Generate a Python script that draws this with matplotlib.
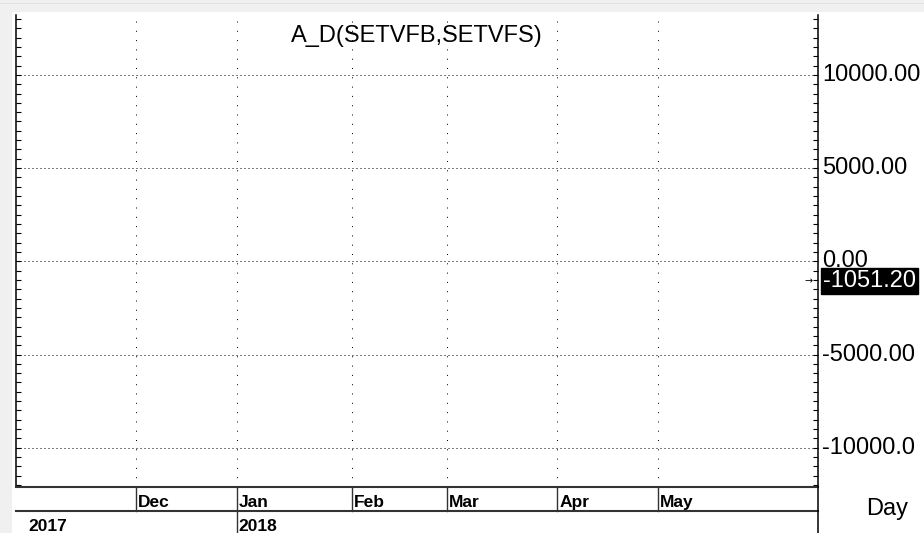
import matplotlib
matplotlib.use("Agg")
import matplotlib.pyplot as plt
from matplotlib.patches import Rectangle
from matplotlib.lines import Line2D
from matplotlib.ticker import MultipleLocator

# ---- data ----
title = "A_D(SETVFB,SETVFS)"
month_labels = ["Dec", "Jan", "Feb", "Mar", "Apr", "May"]
month_pos = [24, 44, 67, 86, 108, 128]          # trading-day index of month start
year_labels = ["2017", "2018"]
year_pos = [0, 44]
ytick_vals = [10000, 5000, 0, -5000, -10000]
ytick_labels = ["10000.00", "5000.00", "0.00", "-5000.00", "-10000.0"]
last_value = -1051.20
x_range = (0, 160)
y_range = (-12108, 13213)

W, H = 924, 533
DPI = 100
fig = plt.figure(figsize=(W / DPI, H / DPI), dpi=DPI, facecolor="white")

def fx(px):
    return px / W

def fy(py):  # py measured from top
    return 1 - py / H

# window border (light gray)
fig.patches.append(Rectangle((0, 0), fx(12), 1, transform=fig.transFigure,
                             facecolor="#f0f0f0", edgecolor="none", zorder=0))
fig.patches.append(Rectangle((0, fy(12)), 1, 12 / H, transform=fig.transFigure,
                             facecolor="#f0f0f0", edgecolor="none", zorder=0))
fig.lines.append(Line2D([0, 1], [fy(3), fy(3)], transform=fig.transFigure,
                        color="#e2e2e2", lw=0.8))

L, R, T, B = 16, 818, 15, 487
ax = fig.add_axes([fx(L), fy(B), fx(R - L), (B - T) / H])
ax.set_xlim(*x_range)
ax.set_ylim(*y_range)
ax.set_facecolor("white")

ax.spines["top"].set_visible(False)
ax.spines["left"].set_linewidth(1.1)
ax.spines["right"].set_linewidth(1.1)
ax.spines["bottom"].set_linewidth(1.5)
ax.spines["bottom"].set_color("#333333")

ax.set_xticks([])
ax.yaxis.set_major_locator(MultipleLocator(500))
ax.yaxis.set_ticks_position("both")
ax.tick_params(axis="y", direction="in", length=3.5, width=0.8, labelleft=False,
               labelright=False)

# horizontal dotted gridlines
for v in ytick_vals:
    ax.axhline(v, color="black", lw=0.72, ls=(0, (1, 3)), zorder=1)
# vertical dotted gridlines
for p in month_pos:
    ax.axvline(p, color="black", lw=0.72, ls=(0, (1, 8.3)), zorder=1)

# right-axis labels
lab_font = dict(family=["Liberation Sans", "DejaVu Sans"], fontsize=17)
for v, lab in zip(ytick_vals, ytick_labels):
    ax.annotate(lab, xy=(1, v), xycoords=("axes fraction", "data"),
                xytext=(4, 0), textcoords="offset pixels", ha="left", va="center",
                annotation_clip=False, color="black", **lab_font)

# last value box and arrow
ax.annotate(f"{last_value:.2f}", xy=(1, last_value), xycoords=("axes fraction", "data"),
            xytext=(5, 0), textcoords="offset pixels", ha="left", va="center",
            annotation_clip=False, color="white", zorder=5,
            bbox=dict(boxstyle="square,pad=0.1", facecolor="black", edgecolor="black"),
            **lab_font)
ax.annotate("\u2192", xy=(1, last_value), xycoords=("axes fraction", "data"),
            xytext=(-9, 0), textcoords="offset pixels", ha="center", va="center",
            annotation_clip=False, fontsize=7, family="DejaVu Sans")

# title
ax.text(0.5, 1 - 21 / (B - T), title, transform=ax.transAxes, ha="center", va="center",
        **lab_font)

# date band
band = fig.add_axes([fx(L), 0, fx(R - L), (H - B) / H], sharex=ax)
band.set_xlim(*x_range)
band.set_ylim(0, H - B)
band.axis("off")
row_y = H - 511  # line between month row and year row
band.plot(list(x_range), [row_y, row_y], color="#333333", lw=1.5, clip_on=False)
bold_font = dict(family=["Liberation Sans Narrow", "Liberation Sans", "DejaVu Sans"],
                 fontsize=12.5, fontweight="bold")
for p, lab in zip(month_pos, month_labels):
    band.plot([p, p], [row_y, H - B], color="#333333", lw=1.0, clip_on=False)
    band.annotate(lab, xy=(p, H - 507), xycoords="data", xytext=(2, 0),
                  textcoords="offset pixels", ha="left", va="baseline", **bold_font)
for p, lab in zip(year_pos, year_labels):
    off = 12 if p == x_range[0] else 2
    if p != x_range[0]:
        band.plot([p, p], [0, row_y], color="#333333", lw=1.0, clip_on=False)
    band.annotate(lab, xy=(p, 2), xycoords="data", xytext=(off, 0),
                  textcoords="offset pixels", ha="left", va="baseline", **bold_font)

# right axis continues down through the band
fig.lines.append(Line2D([fx(R), fx(R)], [0, fy(B)], transform=fig.transFigure,
                        color="black", lw=1.1))

fig.text(fx(887), (H - 515) / H, "Day", ha="center", va="baseline",
         color="black", **lab_font)

fig.savefig("out.png", dpi=DPI, facecolor="white")
